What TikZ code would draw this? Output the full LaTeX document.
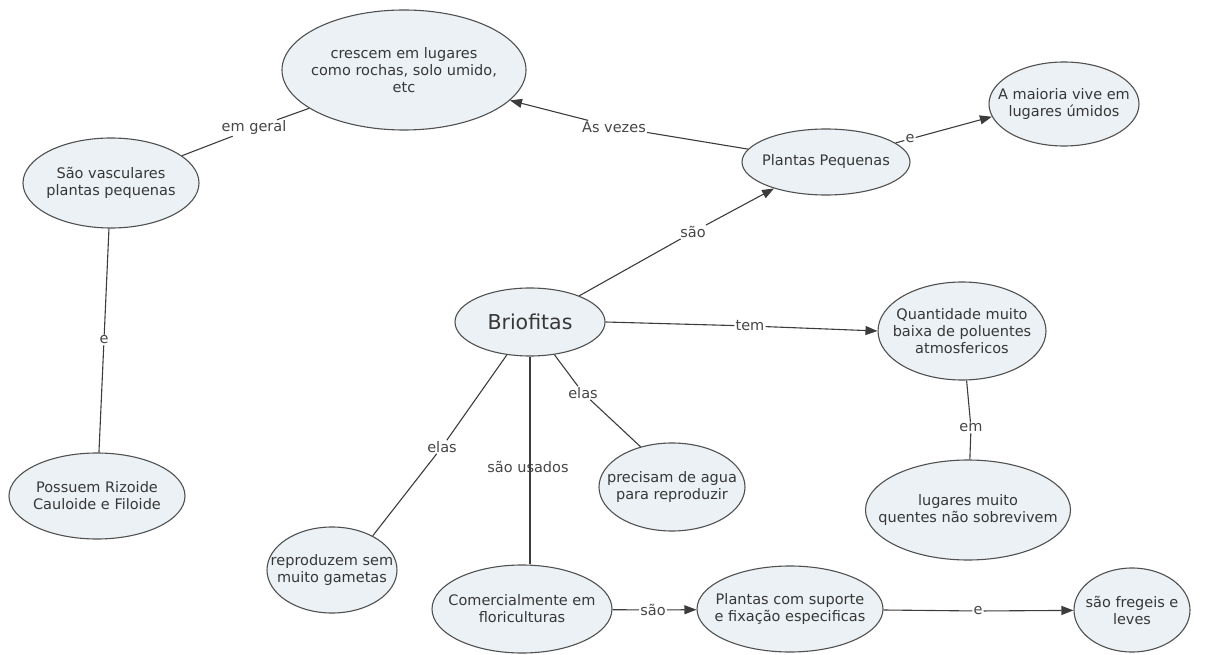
\documentclass[tikz,border=0pt]{standalone}
\usepackage{fontspec}
\setmainfont{DejaVu Sans}
\usetikzlibrary{shapes.geometric,arrows.meta}
\definecolor{conceptfill}{RGB}{235,241,244}
\definecolor{conceptline}{RGB}{80,80,80}
\definecolor{inktext}{RGB}{55,55,55}
\definecolor{linkline}{RGB}{60,60,60}
\definecolor{linktext}{RGB}{70,70,70}

\begin{document}
\begin{tikzpicture}[x=1pt,y=-1pt,
  concept/.style={ellipse, draw=conceptline, line width=1.1pt, fill=conceptfill,
    inner sep=-40pt, align=center, text=inktext,
    font=\fontsize{14.5}{17}\selectfont},
  linklabel/.style={fill=white, inner sep=1pt, text=linktext,
    font=\fontsize{14.5}{17}\selectfont},
  link/.style={draw=linkline, line width=1.1pt},
  arrowlink/.style={link, -{Triangle[length=12pt,width=9pt]}},
]
\useasboundingbox (0,0) rectangle (1224,655);

% concepts
\node[concept, minimum width=244pt, minimum height=120pt] (cr) at (404,70)
  {crescem em lugares\\como rochas, solo umido,\\etc};
\node[concept, minimum width=150pt, minimum height=84pt] (am) at (1064,104)
  {A maioria vive em\\lugares úmidos};
\node[concept, minimum width=176pt, minimum height=90pt] (sv) at (111,183)
  {São vasculares\\plantas pequenas};
\node[concept, minimum width=168pt, minimum height=66pt] (pp) at (826,162)
  {Plantas Pequenas};
\node[concept, minimum width=150pt, minimum height=68pt,
      font=\fontsize{20.5}{24}\selectfont] (bri) at (530,322) {Briofitas};
\node[concept, minimum width=168pt, minimum height=98pt] (qt) at (962,331)
  {Quantidade muito\\baixa de poluentes\\atmosfericos};
\node[concept, minimum width=205pt, minimum height=100pt] (lq) at (968,510)
  {lugares muito\\quentes não sobrevivem};
\node[concept, minimum width=176pt, minimum height=86pt] (pos) at (97,496)
  {Possuem Rizoide\\Cauloide e Filoide};
\node[concept, minimum width=130pt, minimum height=86pt] (rep) at (332,570)
  {reproduzem sem\\muito gametas};
\node[concept, minimum width=146pt, minimum height=88pt] (pre) at (672,487)
  {precisam de agua\\para reproduzir};
\node[concept, minimum width=180pt, minimum height=88pt] (com) at (522,609)
  {Comercialmente em\\floriculturas};
\node[concept, minimum width=186pt, minimum height=86pt] (pcs) at (790,609)
  {Plantas com suporte\\e fixação especificas};
\node[concept, minimum width=116pt, minimum height=84pt] (sf) at (1132,610)
  {são fregeis e\\leves};

% linking phrases
\node[linklabel] (lg) at (254,128) {em geral};
\node[linklabel] (lav) at (614,127) {As vezes};
\node[linklabel] (le1) at (910,139) {e};
\node[linklabel] (ls1) at (693,232) {são};
\node[linklabel] (lt) at (750,326) {tem};
\node[linklabel] (lem) at (971,428) {em};
\node[linklabel] (le2) at (104,340) {e};
\node[linklabel] (lel1) at (583,393) {elas};
\node[linklabel] (lel2) at (442,447) {elas};
\node[linklabel, fill=none] (lsu) at (528,467) {são usados};
\node[linklabel] (ls2) at (653,610) {são};
\node[linklabel] (le3) at (978,611) {e};

% connections
\draw[link] (sv) -- (lg) -- (cr.202);
\draw[arrowlink] (pp) -- (lav) -- (cr.-16);
\draw[arrowlink] (pp) -- (le1) -- (am.190);
\draw[arrowlink] (bri.28) -- (ls1) -- (pp.207);
\draw[arrowlink] (bri.east) -- (lt) -- (qt.west);
\draw[link] (qt) -- (lem) -- (lq);
\draw[link] (sv) -- (le2) -- (pos);
\draw[link] (bri) -- (lel1) -- (pre.128);
\draw[link] (bri) -- (lel2) -- (rep.40);
\draw[link] (bri.south) -- (bri.south |- com.north);
\draw[arrowlink] (com) -- (ls2) -- (pcs);
\draw[arrowlink] (pcs) -- (le3) -- (sf);
\end{tikzpicture}
\end{document}
